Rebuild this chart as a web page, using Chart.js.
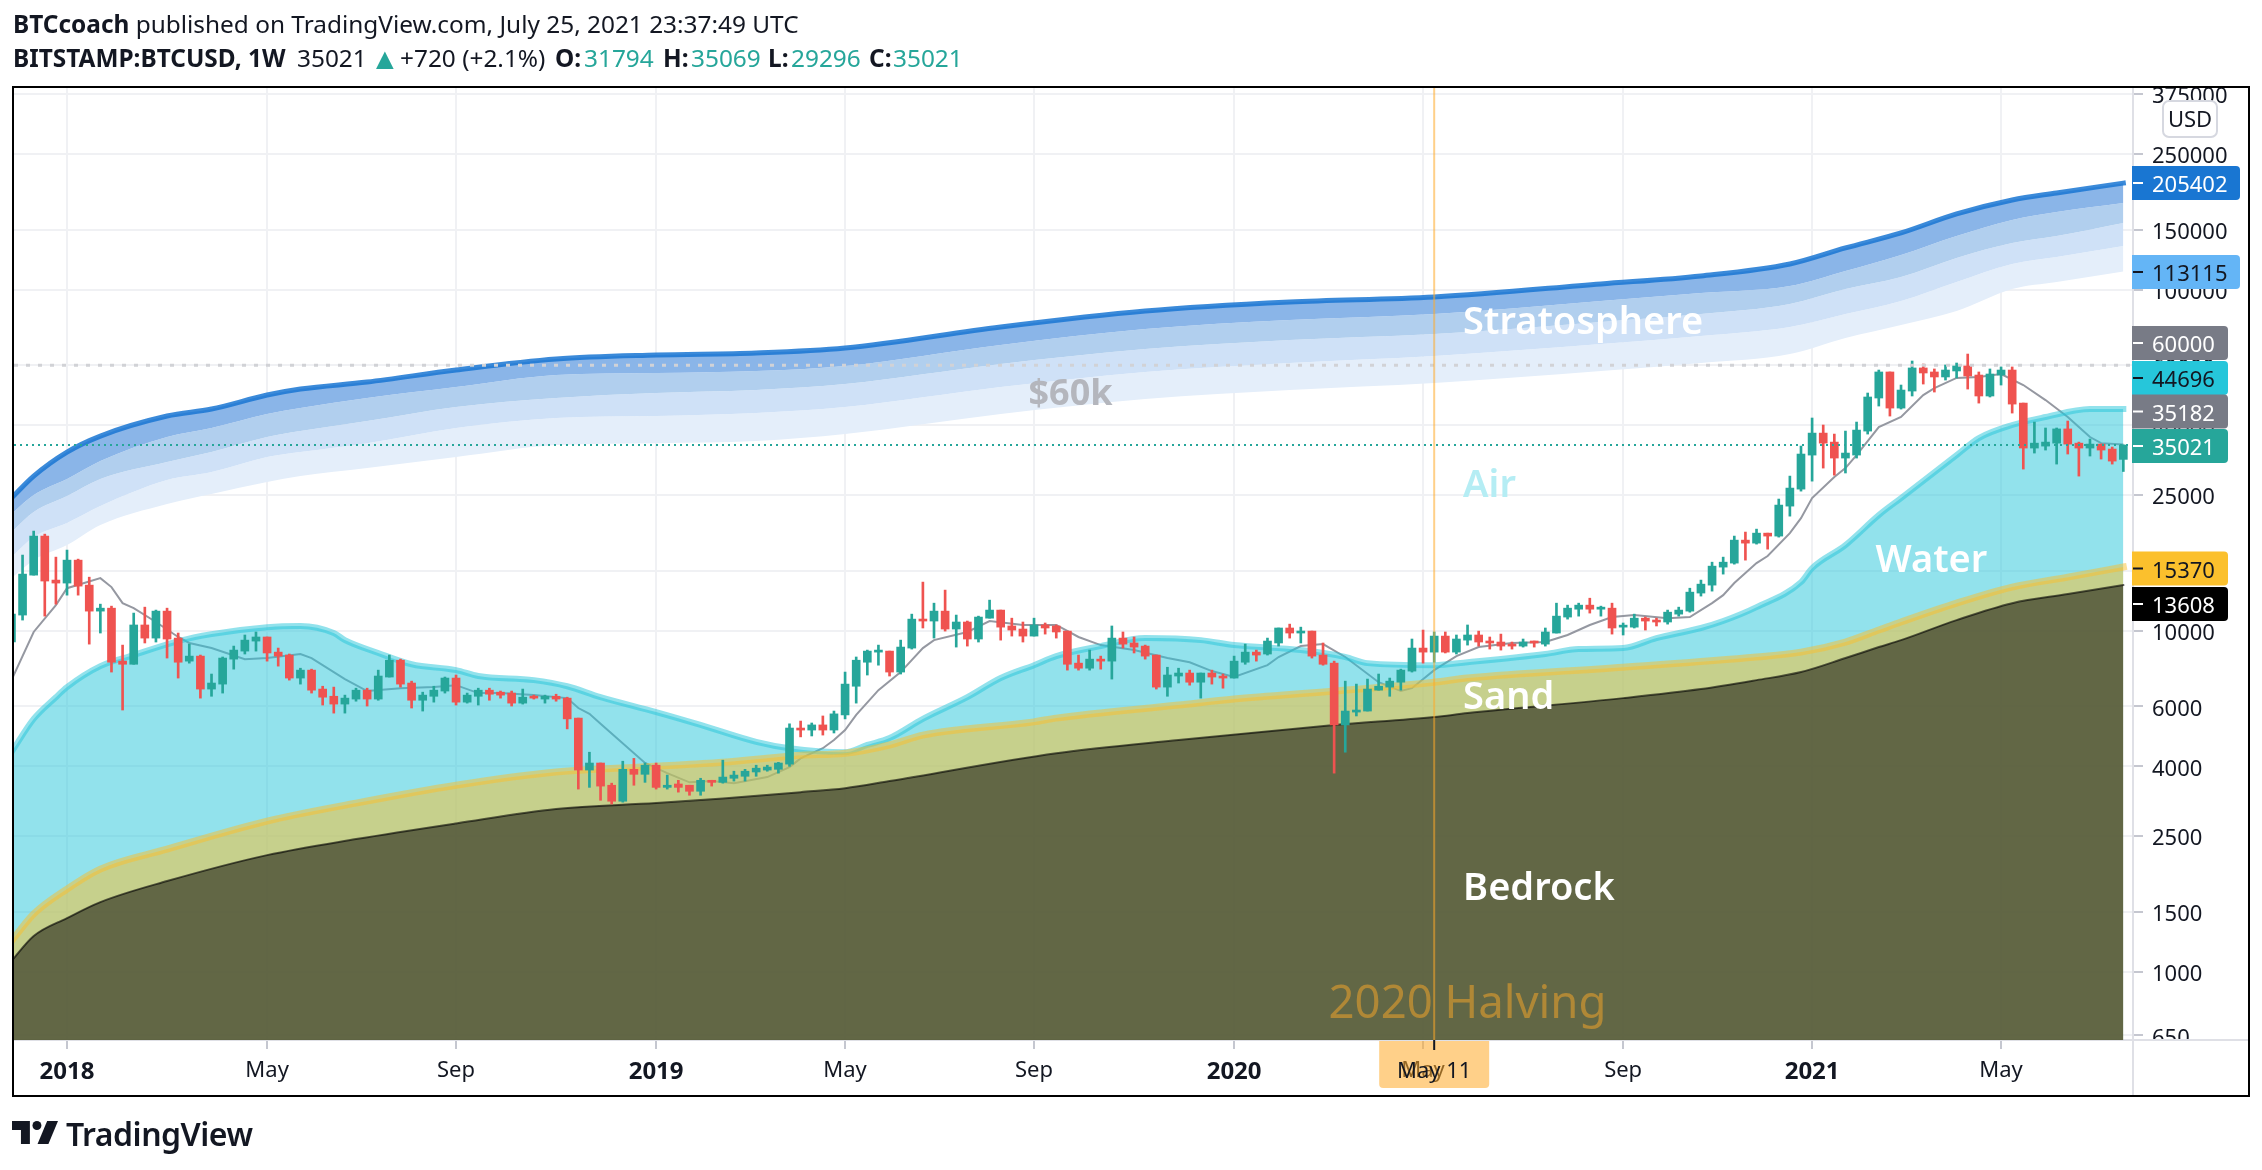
<!DOCTYPE html>
<html>
<head>
<meta charset="utf-8">
<title>BITSTAMP:BTCUSD</title>
<script src="https://cdn.jsdelivr.net/npm/chart.js@4/dist/chart.umd.min.js"></script>
<style>
    html, body { margin: 0; padding: 0; background: #fff; overflow: hidden; }
    #page { position: relative; width: 2262px; height: 1170px; font-family: "Noto Sans", sans-serif; color: #131722; }
    #chart { position: absolute; left: 0; top: 0; }
    .txt { position: absolute; white-space: nowrap; font-size: 24.4px; line-height: 30px; }
    .b { font-weight: 700; }
    .up { color: #26a69a; }
    #logo { position: absolute; left: 12px; top: 1121px; }
    #brand { position: absolute; left: 66px; top: 1112px; font-size: 32px; line-height: 44px; font-weight: 600; letter-spacing: -0.5px; }
</style>
</head>
<body>
<div id="page">
    <canvas id="chart" width="2262" height="1170"></canvas>
    <div class="txt" style="left:13px;top:9px"><span class="b">BTCcoach</span> published on TradingView.com, July 25, 2021 23:37:49 UTC</div>
    <div class="txt b" style="left:13px;top:43px">BITSTAMP:BTCUSD, 1W</div>
    <div class="txt" style="left:297px;top:43px">35021</div>
    <div class="txt up" style="left:370px;top:43px;font-size:30px">▲</div>
    <div class="txt" style="left:400px;top:43px">+720 (+2.1%)</div>
    <div class="txt b" style="left:555px;top:43px">O:</div>
    <div class="txt up" style="left:584px;top:43px">31794</div>
    <div class="txt b" style="left:663px;top:43px">H:</div>
    <div class="txt up" style="left:691px;top:43px">35069</div>
    <div class="txt b" style="left:768px;top:43px">L:</div>
    <div class="txt up" style="left:791px;top:43px">29296</div>
    <div class="txt b" style="left:869px;top:43px">C:</div>
    <div class="txt up" style="left:893px;top:43px">35021</div>
    <svg id="logo" width="46" height="23" viewBox="0 0 36 18" fill="#131722">
        <path d="M14 0H0v7h7v11h7V0z"/><circle cx="19.5" cy="3.5" r="3.5"/><path d="M36 0l-7.5 18H20L27.5 0H36z"/>
    </svg>
    <div id="brand">TradingView</div>
</div>
<script>
// Weekly candles, week 0 is the first week of 2018
const firstWeek = -5;
const candleOpens = [
    9260,11110,14550,18940,14070,13790,16100,13600,11410,11640,
    8140,7970,10390,9510,11410,9510,8140,8420,6740,6970,
    8250,8710,9320,9580,8650,8480,7260,7660,6740,6420,
    6090,6300,6690,6300,7310,8190,7020,6250,6420,6650,
    7260,6170,6420,6690,6600,6560,6130,6420,6300,6420,
    6340,5540,3900,4090,3520,3160,3920,3790,4030,3470,
    3550,3520,3380,3640,3590,3690,3740,3850,3900,3920,
    4060,5180,5110,5290,5110,5660,6870,8080,8650,8710,
    7560,8890,10810,10670,11410,10110,10600,9450,10880,11490,
    10320,10110,9640,10390,10320,9970,8030,7760,8250,8140,
    9510,9200,9010,8480,6830,7360,7510,7060,7510,7360,
    7260,8080,8650,8540,9200,10180,9840,9970,8480,8030,
    5290,5770,5810,6690,6830,7060,7610,8890,8650,9640,
    8650,9380,9710,9320,9260,9130,9010,9260,9130,9840,
    10960,11560,11880,11560,11640,10240,10240,10880,10740,10600,
    11180,11410,12890,13600,15360,15780,18430,18060,19320,18940,
    23190,26010,32730,37970,35730,32080,32730,38490,48120,57370,
    44960,50440,58950,57370,55470,57760,59740,56200,48780,56200,
    58130,46500,34320,34780,35480,39050,35480,34320,35250,34090,31794
];
const candleHighs = [
    11330,16660,19590,19190,16430,17230,16210,14350,11960,11800,
    9070,11260,11720,11490,11640,9840,9130,8480,7460,8370,
    9010,9710,9910,9580,8890,8540,7760,7710,6870,6830,
    6470,6780,6780,7660,8480,8250,7110,6600,6870,7310,
    7410,6560,6780,6780,6650,6650,6740,6470,6470,6510,
    6380,5540,4400,4090,3570,4140,4220,4090,4090,3770,
    3640,3520,3690,3640,4170,3870,3920,4030,4030,4110,
    5330,5430,5360,5620,5810,7560,8370,8770,9070,8710,
    9380,11180,13880,12040,13150,11110,10670,11030,12290,11490,
    10880,10600,10880,10530,10390,9970,8480,8770,8420,10320,
    9910,9580,9070,8480,7810,7760,7660,7510,7660,7460,
    8420,9130,8770,9510,10180,10450,10240,9970,9200,8140,
    7110,6970,7210,7460,7260,7710,9450,10040,9910,9910,
    9710,10390,9970,9580,9770,9260,9450,9320,10180,12040,
    11880,12040,12450,11800,12040,10530,11180,10960,10880,11490,
    11720,13320,14070,15880,16430,18940,19460,19850,19320,24320,
    28400,34780,42040,40100,37720,38490,40910,49770,58130,57370,
    52530,61780,60530,58550,60140,60950,64760,57370,58550,59350,
    59350,46500,40910,39300,39300,41190,35730,36470,35250,34550,35069
];
const candleLows = [
    9070,10740,14550,11030,11960,12710,12710,9130,9840,7560,
    5850,7970,9200,9260,8310,7260,8030,6340,6420,6560,
    7710,8540,8710,8140,7870,7160,6970,6560,6050,5730,
    5730,6210,6010,6250,7310,6830,5930,5810,6170,6560,
    6050,6130,6050,6250,6340,6010,6090,6300,6130,6210,
    5150,3430,3470,3180,3100,3140,3520,3590,3430,3430,
    3360,3290,3290,3500,3570,3620,3620,3740,3870,3820,
    4000,4880,4910,4940,5010,5510,6130,7410,7920,7360,
    7460,8830,10180,9510,9970,8950,9010,9260,10880,9380,
    9640,9260,9640,9770,9510,7660,7660,7660,7710,7210,
    8890,8600,8250,6740,6420,7020,6920,6340,6970,6780,
    7260,7970,8140,8480,9010,9510,9200,8310,7920,3820,
    4400,5620,5810,6690,6420,6690,7560,8030,8080,8600,
    8540,9070,9010,8830,8770,8830,8950,8950,9010,9840,
    10810,11030,11260,11030,9770,9710,10180,10040,10320,10450,
    11030,11330,12630,13060,14650,15670,16100,17940,17340,18810,
    21670,25660,27450,29980,28580,29000,32080,37720,45580,42600,
    44660,48780,52880,50100,54330,55100,51120,46500,48450,52530,
    43470,29780,33180,33860,30800,32960,28400,32520,31860,30800,29296
];
const candleCloses = [
    11180,14650,18940,13980,13790,16100,13510,11410,11640,8080,
    7970,10390,9510,11410,9450,8080,8420,6740,7020,8310,
    8770,9380,9580,8600,8420,7260,7660,6690,6380,6090,
    6340,6690,6300,7360,8190,6970,6250,6470,6690,7260,
    6170,6470,6690,6510,6470,6130,6380,6340,6420,6300,
    5510,3900,4090,3500,3160,3920,3790,4030,3470,3520,
    3470,3380,3640,3590,3720,3770,3870,3950,3980,4090,
    5180,5110,5290,5110,5700,6970,8190,8710,8770,7560,
    8950,10810,10670,11410,10110,10600,9450,10960,11490,10240,
    10040,9640,10390,10180,9910,7970,7760,8250,8140,9510,
    9130,8950,8420,6830,7410,7510,7060,7510,7310,7260,
    8140,8650,8480,9320,10180,9840,9970,8420,7970,5290,
    5810,5850,6740,6870,7110,7660,8890,8650,9640,8650,
    9450,9710,9260,9200,9010,9010,9260,9200,9910,11030,
    11640,11880,11560,11720,10180,10320,10880,10670,10600,11330,
    11490,12970,13690,15460,15880,18430,18060,19320,18940,23350,
    26190,32960,37970,35480,32080,33180,38750,48450,57370,44960,
    50780,58950,56980,55470,58130,59740,55840,48780,56590,58130,
    46190,34320,35480,35730,39050,35250,34320,35250,33860,31430,35021
];

// Stratosphere band edges, top to bottom
const bandWeeks = [-5,-3,0,3,9,13,18,21,27,35,44,53,62,70,84,97,110,123,138,147,155,160,165,170,175,179,185];
const bandTop = [24480,28400,33400,37220,42600,44660,49090,51120,53600,58130,62610,64330,65210,67440,77740,86600,92040,95210,103950,109740,118990,132580,146730,166800,183360,192260,205402];
const bandSecond = [21970,24980,27830,31430,36970,39300,43180,44960,48120,51830,56200,56980,57760,59740,68820,76690,81500,84860,92660,97810,102560,113490,126460,143790,160190,169080,179690];
const bandThird = [19460,22270,24810,27830,31220,33400,36970,38490,41190,45270,48120,49770,50780,52880,60530,66990,71190,74140,80410,84860,90800,100490,109000,123910,137140,143790,156990];
const bandFourth = [16430,18810,20680,23190,27640,29180,32290,33400,35480,39300,42040,42600,43470,45270,51830,57370,60950,63900,69290,73150,77740,84860,92660,105370,118990,124770,134400];
const bandBottom = [14260,16100,17820,20400,23510,25150,27270,28400,29980,32290,35010,35480,35980,37720,43180,47780,50780,53240,57760,60950,64760,72160,78800,86600,100490,105370,113115];

const waterWeeks = [-5,-3,-1,0,3,6,10,13,18,21,24,25,28,31,35,37,42,45,48,53,57,62,65,70,72,74,77,81,84,87,89,93,97,102,105,111,115,117,123,126,133,136,140,143,147,149,152,156,157,160,163,165,170,172,175,178,182,185];
const waterValues = [4400,5510,6380,6830,7870,8480,9320,9770,10240,10320,9840,9380,8600,7970,7660,7360,7160,6870,6380,5770,5290,4720,4520,4400,4620,4840,5510,6380,7260,7920,8420,9010,9510,9380,9070,8770,8370,8030,7920,8080,8540,8830,8890,9510,10180,10670,11720,13880,15250,17820,21820,24480,32730,36720,40100,42320,44660,44696];

const sandWeeks = [-5,-3,0,3,9,18,26,35,44,53,59,66,70,74,77,87,89,100,105,114,123,126,140,152,156,160,163,165,170,175,180,185];
const sandValues = [1229,1475,1746,1998,2287,2764,3120,3520,3850,4000,4110,4310,4370,4620,4940,5400,5540,6050,6300,6650,7060,7260,7810,8370,8650,9260,10040,10600,12040,13420,14350,15370];

const bedrockWeeks = [-5,-3,0,3,9,18,26,35,44,53,59,66,70,74,89,100,114,123,126,140,147,152,156,160,163,165,170,175,180,185];
const bedrockValues = [1074,1271,1435,1599,1843,2196,2447,2720,3000,3120,3220,3360,3450,3620,4370,4780,5290,5580,5730,6340,6740,7160,7560,8310,8950,9380,10740,12040,12800,13608];

const averageWeeks = [-5,-3,-1,0,3,4,5,6,8,10,11,13,16,18,21,22,25,27,30,33,35,37,39,42,45,46,47,48,52,54,56,58,60,63,65,66,68,69,70,71,73,75,77,78,81,83,86,89,91,93,96,99,101,103,105,108,109,111,113,115,118,120,121,123,125,127,130,133,135,137,139,141,144,146,148,149,150,151,152,153,155,156,157,159,160,161,163,165,167,168,170,172,174,176,178,180,181,182,183,185];
const averageValues = [7160,9910,11880,13320,14260,13420,12040,11640,10600,9580,9200,8890,8250,8310,8540,8310,7210,6650,6780,6830,6920,6560,6560,6470,6340,5930,5700,5330,4090,3820,3590,3620,3570,3720,3980,4220,4520,4780,5110,5660,6690,7560,8890,9380,9910,10670,10390,10390,9580,9070,8770,8310,8080,7610,7310,7920,8370,9010,9130,8370,7060,6650,6780,7660,8420,8950,9200,9260,9710,10390,10960,11110,10880,10960,12040,12710,13790,14750,15780,16550,19320,21380,24480,28210,29980,32730,39550,42320,49090,51450,55100,55470,56590,52530,47460,42320,39550,36970,35480,35182];

const priceTicks = [375000,250000,150000,100000,60000,40000,25000,15000,10000,6000,4000,2500,1500,1000,650];
const timeTicks = [0,18,35,53,70,87,105,122,140,157,174];
const timeLabels = ['2018','May','Sep','2019','May','Sep','2020','May','Sep','2021','May'];
const yearLabels = ['2018','2019','2020','2021'];

const sixtyK = 60000;
const lastClose = 35021;
const halvingWeek = 123;

// Axis limits
const weekMin = -4.77, weekMax = 185.87;
const priceMin = 630, priceMax = 390500;

const UP = '#26a69a', DOWN = '#ef5350';
const FONT = '"Noto Sans", sans-serif';
const HALVING = 'rgba(255,170,40,0.55)';

function points(weeks, values) {
    return weeks.map((x, i) => ({x: x, y: values[i]}));
}

function curve(label, weeks, values, opts) {
    return Object.assign({
        type: 'line', label: label, data: points(weeks, values),
        pointRadius: 0, tension: 0, borderWidth: 0, fill: false
    }, opts);
}

// The zones are sampled sparsely, so round them off between samples
const smooth = {cubicInterpolationMode: 'monotone', borderCapStyle: 'square'};

// Floating bars make the candles: thin one for the wick, wide one for the body
const candleColors = candleCloses.map((c, i) => c >= candleOpens[i] ? UP : DOWN);
const wickBars = candleHighs.map((h, i) => ({x: firstWeek + i, y: [candleLows[i], h]}));
const bodyBars = candleOpens.map((o, i) => ({x: firstWeek + i, y: [Math.min(o, candleCloses[i]), Math.max(o, candleCloses[i])]}));

const datasets = [
    curve('Top', bandWeeks, bandTop, {...smooth, borderColor: 'rgba(25,118,210,0.85)', borderWidth: 5, fill: {target: '+1'}, backgroundColor: '#8ab5e8', order: 90}),
    curve('Second', bandWeeks, bandSecond, {...smooth, fill: {target: '+1'}, backgroundColor: '#b1cfee', order: 91}),
    curve('Third', bandWeeks, bandThird, {...smooth, fill: {target: '+1'}, backgroundColor: '#cfe1f7', order: 92}),
    curve('Fourth', bandWeeks, bandFourth, {...smooth, fill: {target: '+1'}, backgroundColor: '#e4eefa', order: 93}),
    curve('Bottom', bandWeeks, bandBottom, {...smooth, order: 94}),
    curve('Average', averageWeeks, averageValues, {borderColor: '#9598a1', borderWidth: 2, order: 60}),
    curve('Water', waterWeeks, waterValues, {...smooth, borderColor: 'rgba(38,198,218,0.5)', borderWidth: 6, fill: 'start', backgroundColor: 'rgba(38,198,218,0.5)', order: 50}),
    curve('Sand', sandWeeks, sandValues, {...smooth, borderColor: 'rgba(251,192,45,0.5)', borderWidth: 7, fill: 'start', backgroundColor: 'rgba(251,192,45,0.5)', order: 40}),
    curve('Bedrock', bedrockWeeks, bedrockValues, {...smooth, borderColor: 'rgba(0,0,0,0.6)', borderWidth: 2, fill: 'start', backgroundColor: 'rgba(0,0,0,0.5)', order: 30}),
    {type: 'bar', label: 'Wicks', data: wickBars, backgroundColor: candleColors, barThickness: 2, grouped: false, order: 20},
    {type: 'bar', label: 'Bodies', data: bodyBars, backgroundColor: candleColors, barThickness: 8, minBarLength: 2, grouped: false, order: 19},
    curve('60k', [weekMin, weekMax], [sixtyK, sixtyK], {borderColor: '#d1d2d6', borderWidth: 3, borderDash: [4, 8], order: 10}),
    curve('Close', [weekMin, weekMax], [lastClose, lastClose], {borderColor: UP, borderWidth: 2, borderDash: [2, 4], order: 9}),
    curve('Halving', [halvingWeek, halvingWeek], [priceMin, priceMax], {borderColor: HALVING, borderWidth: 2, order: 5})
];

// Zone names on the chart, anchored by week and price
const zoneNames = [
    {text: 'Stratosphere', week: 125.6, price: 81500, color: '#fff', font: '600 38px ' + FONT},
    {text: '$60k', week: 86.5, price: 50100, color: '#b4b6bd', font: '700 36px ' + FONT},
    {text: 'Air', week: 125.6, price: 27100, color: '#b5edf4', font: '600 38px ' + FONT},
    {text: 'Water', week: 162.7, price: 16300, color: '#fff', font: '600 38px ' + FONT},
    {text: 'Sand', week: 125.6, price: 6470, color: '#fff', font: '600 38px ' + FONT},
    {text: 'Bedrock', week: 125.6, price: 1780, color: '#fff', font: '600 38px ' + FONT},
    {text: '2020 Halving', week: 113.5, price: 814, color: 'rgba(255,170,40,0.5)', font: '400 45.5px ' + FONT}
];

// Price tags on the axis, stacked so they do not overlap
const priceTags = [
    {text: '205402', y: 183, width: 108, bg: '#1976d2', fg: '#fff'},
    {text: '113115', y: 272, width: 108, bg: '#64b5f6', fg: '#131722'},
    {text: '60000', y: 343, width: 96, bg: '#787b86', fg: '#fff'},
    {text: '44696', y: 378, width: 96, bg: '#26c6da', fg: '#131722'},
    {text: '35182', y: 411.5, width: 96, bg: '#787b86', fg: '#fff'},
    {text: '35021', y: 446, width: 96, bg: '#26a69a', fg: '#fff'},
    {text: '15370', y: 568.5, width: 96, bg: '#fbc02d', fg: '#131722'},
    {text: '13608', y: 604, width: 96, bg: '#000', fg: '#fff'}
];

const overlays = {
    id: 'overlays',
    afterDraw(chart) {
        const ctx = chart.ctx;
        const {x, y} = chart.scales;
        const area = chart.chartArea;
        ctx.save();

        // Axis labels get cut at the pane edges
        ctx.fillStyle = '#fff';
        ctx.fillRect(area.right + 2, 70, 120, area.top - 70);
        ctx.fillRect(area.right + 2, area.bottom + 1, 115, 20);

        // Axis lines continue to the frame
        ctx.fillStyle = '#dfe0e6';
        ctx.fillRect(area.right - 1, area.bottom, 2, 56);
        ctx.fillRect(area.right, area.bottom - 1, 116, 2);

        // Zone names
        ctx.textBaseline = 'middle';
        ctx.textAlign = 'left';
        zoneNames.forEach(z => {
            ctx.font = z.font;
            ctx.fillStyle = z.color;
            ctx.fillText(z.text, x.getPixelForValue(z.week), y.getPixelForValue(z.price) + 3);
        });

        // Price tags
        ctx.font = '22px ' + FONT;
        priceTags.forEach(t => {
            ctx.fillStyle = t.bg;
            ctx.beginPath();
            ctx.roundRect(area.right - 1, t.y - 17, t.width, 34, [0, 4, 4, 0]);
            ctx.fill();
            ctx.fillStyle = t.fg;
            ctx.fillRect(area.right, t.y - 1, 10, 2);
            ctx.fillText(t.text, area.right + 19, t.y + 3);
        });

        // USD box
        ctx.fillStyle = '#fff';
        ctx.strokeStyle = '#d6d8e0';
        ctx.lineWidth = 2;
        ctx.beginPath();
        ctx.roundRect(2163, 101, 54, 36, 6);
        ctx.fill();
        ctx.stroke();
        ctx.fillStyle = '#131722';
        ctx.textAlign = 'center';
        ctx.fillText('USD', 2190, 121);

        // Crosshair date under the halving line
        const hx = x.getPixelForValue(halvingWeek);
        ctx.fillStyle = HALVING;
        ctx.beginPath();
        ctx.roundRect(hx - 55, area.bottom + 1, 110, 47, [0, 0, 4, 4]);
        ctx.fill();
        ctx.fillStyle = '#131722';
        ctx.fillRect(hx - 1, area.bottom, 2, 10);
        ctx.fillText('May 11', hx, area.bottom + 32);

        // Frame
        ctx.strokeStyle = '#000';
        ctx.lineWidth = 2;
        ctx.strokeRect(13, 87, 2236, 1009);
        ctx.restore();
    }
};

new Chart(document.getElementById('chart').getContext('2d'), {
    type: 'bar',
    data: {datasets: datasets},
    plugins: [overlays],
    options: {
        responsive: false,
        devicePixelRatio: 1,
        animation: false,
        events: [],
        layout: {padding: {left: 14, top: 88, right: 13, bottom: 74}},
        plugins: {legend: {display: false}, tooltip: {enabled: false}},
        scales: {
            x: {
                type: 'linear',
                offset: false,
                min: weekMin,
                max: weekMax,
                afterBuildTicks(scale) { scale.ticks = timeTicks.map(v => ({value: v})); },
                afterFit(scale) { scale.height = 56; },
                grid: {color: '#f0f1f4', lineWidth: 2, tickColor: '#c5c7d0', tickLength: 9, offset: false},
                border: {display: true, color: '#dfe0e6', width: 2},
                ticks: {
                    autoSkip: false,
                    maxRotation: 0,
                    padding: 9,
                    color: '#131722',
                    callback: value => timeLabels[timeTicks.indexOf(value)],
                    font: ctx => {
                        // the scale also asks for this with no tick at all
                        const label = ctx.tick ? timeLabels[timeTicks.indexOf(ctx.tick.value)] : '';
                        const isYear = yearLabels.includes(label);
                        return {family: FONT, size: isYear ? 24 : 22, weight: isYear ? '700' : '400'};
                    }
                }
            },
            y: {
                type: 'logarithmic',
                position: 'right',
                min: priceMin,
                max: priceMax,
                afterBuildTicks(scale) { scale.ticks = priceTicks.map(v => ({value: v})); },
                afterFit(scale) { scale.width = 116; },
                grid: {color: '#f0f1f4', lineWidth: 2, tickColor: '#c5c7d0', tickLength: 10},
                border: {display: true, color: '#dfe0e6', width: 2},
                ticks: {
                    autoSkip: false,
                    padding: 9,
                    labelOffset: 3,
                    color: '#131722',
                    font: {family: FONT, size: 22},
                    callback: value => String(value)
                }
            }
        }
    }
});
</script>
</body>
</html>
